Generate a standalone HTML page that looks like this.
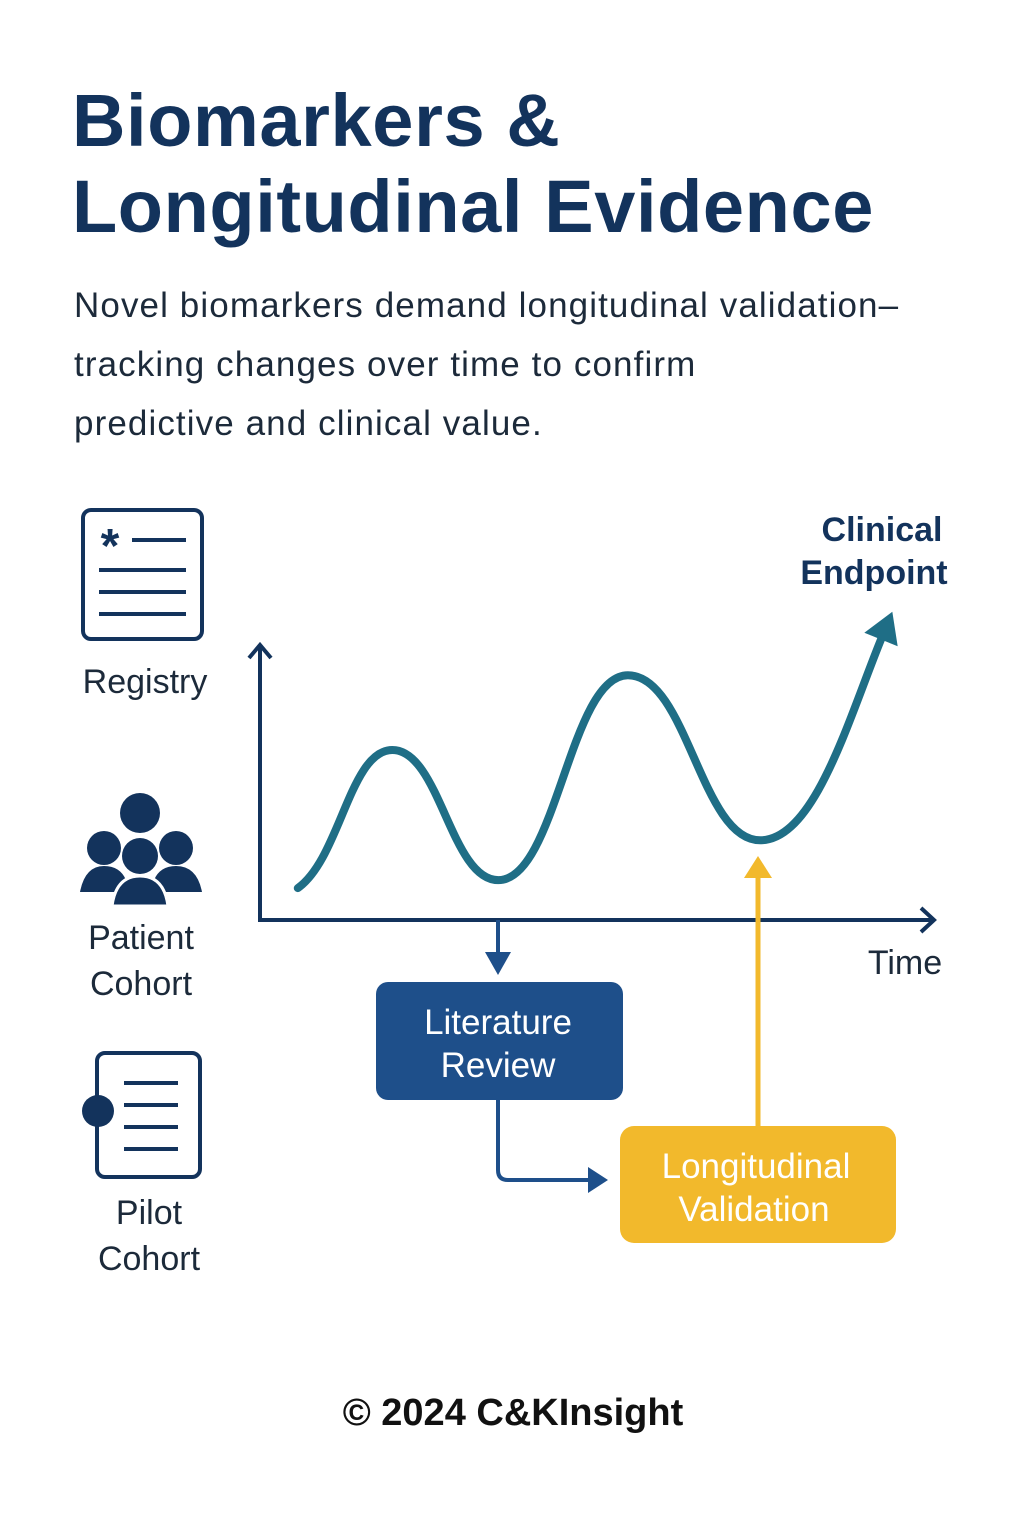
<!DOCTYPE html>
<html><head><meta charset="utf-8"><style>
html,body{margin:0;padding:0;background:#fff}
body{width:1024px;height:1536px;position:relative;overflow:hidden;font-family:"Liberation Sans","DejaVu Sans",sans-serif}
.abs{position:absolute}
</style></head><body>
<div class="abs" style="left:72px;top:78px;font-size:74px;font-weight:bold;color:#13335c;line-height:86px;letter-spacing:0.6px">Biomarkers &amp;<br>Longitudinal Evidence</div>
<div class="abs" style="left:74px;top:276px;font-size:35px;color:#1c2a3a;line-height:59px;letter-spacing:1.1px">Novel biomarkers demand longitudinal validation–<br>tracking changes over time to confirm<br>predictive and clinical value.</div>
<svg class="abs" style="left:0;top:0" width="1024" height="1536">
<g fill="none" stroke="#13335c" stroke-width="4">
<rect x="83" y="510" width="119" height="129" rx="8"/>
<line x1="132" y1="540" x2="186" y2="540"/><line x1="99" y1="570" x2="186" y2="570"/><line x1="99" y1="592" x2="186" y2="592"/><line x1="99" y1="614" x2="186" y2="614"/>
<text x="110" y="562" font-size="48" fill="#13335c" stroke="none" text-anchor="middle" font-weight="bold">*</text>
</g>
<text x="145" y="693" font-size="34" fill="#1c2a3a" text-anchor="middle">Registry</text>
<g fill="#13335c">
<circle cx="140" cy="813" r="20"/><circle cx="104" cy="848" r="17"/><circle cx="176" cy="848" r="17"/><circle cx="140" cy="856" r="18"/>
<path d="M80 892 Q85 866 104 866 Q120 866 126 880 L154 880 Q160 866 176 866 Q197 866 202 892 Z"/>
<path d="M112 906 Q116 876 140 876 Q164 876 168 906 Z" stroke="#fff" stroke-width="3"/>
</g>
<text x="141" y="949" font-size="34" fill="#1c2a3a" text-anchor="middle">Patient</text>
<text x="141" y="995" font-size="34" fill="#1c2a3a" text-anchor="middle">Cohort</text>
<g fill="none" stroke="#13335c" stroke-width="4">
<rect x="97" y="1053" width="103" height="124" rx="8"/>
<line x1="124" y1="1083" x2="178" y2="1083"/><line x1="124" y1="1105" x2="178" y2="1105"/><line x1="124" y1="1127" x2="178" y2="1127"/><line x1="124" y1="1149" x2="178" y2="1149"/>
<circle cx="98" cy="1111" r="16" fill="#13335c" stroke="none"/>
</g>
<text x="149" y="1224" font-size="34" fill="#1c2a3a" text-anchor="middle">Pilot</text>
<text x="149" y="1270" font-size="34" fill="#1c2a3a" text-anchor="middle">Cohort</text>
<g stroke="#13335c" stroke-width="4" fill="none">
<line x1="260" y1="920" x2="260" y2="646"/>
<polyline points="249,658 260,645 271,658"/>
<line x1="258" y1="920" x2="934" y2="920"/>
<polyline points="921,908 934,920 921,932"/>
</g>
<text x="905" y="974" font-size="34" fill="#1c2a3a" text-anchor="middle">Time</text>
<text x="882" y="541" font-size="34" font-weight="bold" fill="#13335c" text-anchor="middle">Clinical</text>
<text x="874" y="584" font-size="34" font-weight="bold" fill="#13335c" text-anchor="middle">Endpoint</text>
<g id="series"></g>
<g>
<line x1="498" y1="920" x2="498" y2="958" stroke="#1e4f8a" stroke-width="4"/>
<polygon points="485,952 511,952 498,975" fill="#1e4f8a"/>
</g>
<rect x="376" y="982" width="247" height="118" rx="12" fill="#1e4f8a"/>
<text x="498" y="1034" font-size="35" fill="#fff" text-anchor="middle">Literature</text>
<text x="498" y="1077" font-size="35" fill="#fff" text-anchor="middle">Review</text>
<path d="M498 1100 V1170 Q498 1180 508 1180 H592" fill="none" stroke="#1e4f8a" stroke-width="4"/>
<polygon points="588,1167 608,1180 588,1193" fill="#1e4f8a"/>
<rect x="620" y="1126" width="276" height="117" rx="14" fill="#f2b92c"/>
<text x="756" y="1178" font-size="35" fill="#fff" text-anchor="middle">Longitudinal</text>
<text x="754" y="1221" font-size="35" fill="#fff" text-anchor="middle">Validation</text>
<g>
<line x1="758" y1="1126" x2="758" y2="872" stroke="#f2b92c" stroke-width="5"/>
<polygon points="744,878 772,878 758,856" fill="#f2b92c"/>
</g>
<text x="513" y="1425" font-size="38" font-weight="bold" fill="#111" text-anchor="middle">© 2024 C&amp;KInsight</text>
</svg>
<script>
const times=[0.56,1.96,3.53,5.45,7.41,9.2];
const values=[1.16,6.18,1.45,8.9,2.9,10.2];
const X0=260,X1=935,Y0=920,Y1=645,TMAX=10,VMAX=10;
function xs(t){return X0+(X1-X0)*t/TMAX;}
function ys(v){return Y0-(Y0-Y1)*v/VMAX;}
const pts=times.map((t,i)=>[xs(t),ys(values[i])]);
let d='M'+pts[0][0]+' '+pts[0][1];
for(let i=0;i<pts.length-1;i++){
  const p0=pts[i],p1=pts[i+1];
  const dx=(p1[0]-p0[0])*0.45;
  let c1y=p0[1],c2y=p1[1];
  if(i===0){c1y=p0[1]-30;}
  if(i===pts.length-2){d+=` C${p0[0]+dx} ${c1y} ${p1[0]-dx*0.6} ${p1[1]+80} ${p1[0]} ${p1[1]}`;continue;}
  d+=` C${p0[0]+dx} ${c1y} ${p1[0]-dx} ${c2y} ${p1[0]} ${p1[1]}`;
}
const g=document.getElementById('series');
const path=document.createElementNS('http://www.w3.org/2000/svg','path');
path.setAttribute('d',d);path.setAttribute('fill','none');path.setAttribute('stroke','#1f6e86');path.setAttribute('stroke-width','8');path.setAttribute('stroke-linecap','round');


g.appendChild(path);
const e=pts[pts.length-1];const ang=Math.atan2(-80,(e[0]-pts[pts.length-2][0])*0.27);
const tip=[e[0]+30*Math.cos(ang),e[1]+30*Math.sin(ang)];
const px=Math.cos(ang+Math.PI/2)*18,py=Math.sin(ang+Math.PI/2)*18;
const head=document.createElementNS('http://www.w3.org/2000/svg','polygon');
head.setAttribute('points',`${tip[0]},${tip[1]} ${e[0]+px},${e[1]+py} ${e[0]-px},${e[1]-py}`);
head.setAttribute('fill','#1f6e86');


g.appendChild(head);
</script>
</body></html>
